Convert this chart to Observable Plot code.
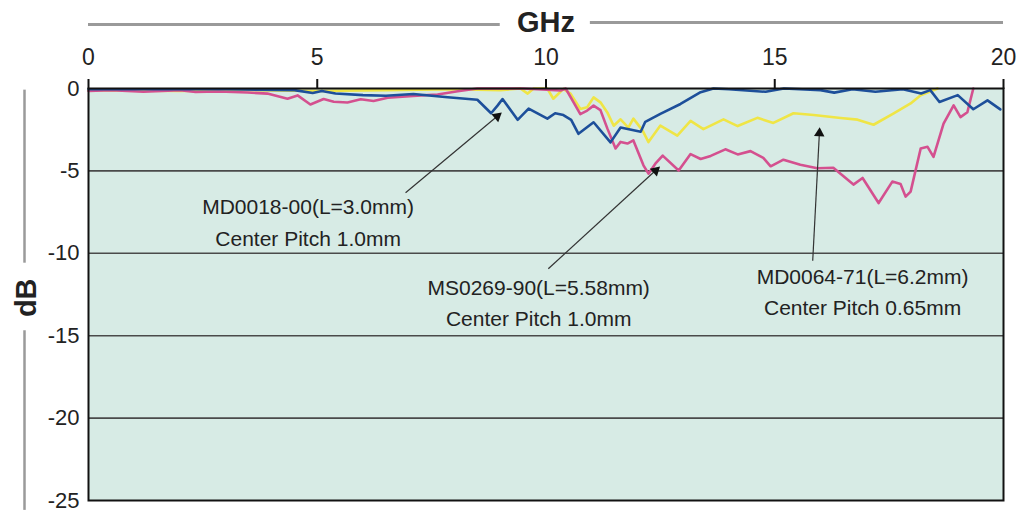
<!DOCTYPE html>
<html>
<head>
<meta charset="utf-8">
<script src="https://cdn.jsdelivr.net/npm/d3@7"></script>
<script src="https://cdn.jsdelivr.net/npm/@observablehq/plot@0.6"></script>
<style>
  html, body { margin: 0; padding: 0; background: #ffffff; }
  #chart { width: 1019px; height: 513px; }
</style>
</head>
<body>
<div id="chart"></div>
<script>
// ---- tick labels ----
const ghzTicks = [0, 5, 10, 15, 20];
const dbTicks = [0, -5, -10, -15, -20, -25];
const gridDb = [-5, -10, -15, -20];

// ---- series: MD0018-00 (blue) ----
const md0018Ghz = [0, 1.5, 3.0, 4.5, 4.9, 5.1, 5.4, 6.0, 6.5, 7.1, 7.85, 8.5, 8.8, 8.94, 9.05, 9.38, 9.62, 10.03, 10.2, 10.38, 10.55, 10.71, 11.04, 11.41, 11.63, 12.07, 12.17, 12.5, 12.94, 13.38, 13.66, 14.0, 14.8, 15.2, 16.0, 16.3, 16.7, 17.2, 17.8, 18.2, 18.4, 18.6, 19.0, 19.34, 19.65, 19.93];
const md0018Db  = [-0.05, -0.05, -0.05, -0.1, -0.27, -0.15, -0.3, -0.4, -0.44, -0.33, -0.53, -0.68, -1.5, -1.04, -0.64, -1.9, -1.22, -1.83, -1.5, -1.61, -1.9, -2.75, -2.05, -3.27, -2.37, -2.62, -2.02, -1.54, -0.94, -0.22, 0, -0.05, -0.2, 0, -0.1, -0.25, -0.05, -0.2, -0.05, -0.3, -0.1, -0.82, -0.4, -1.26, -0.72, -1.27];

// ---- series: MS0269-90 (magenta) ----
const ms0269Ghz = [0, 0.5, 1.2, 2.0, 2.34, 2.84, 3.48, 3.91, 4.35, 4.57, 4.85, 5.14, 5.36, 5.66, 5.95, 6.23, 6.54, 7.1, 7.63, 8.07, 8.5, 9.5, 10.32, 10.43, 10.6, 10.75, 10.9, 11.04, 11.19, 11.34, 11.52, 11.63, 11.78, 11.91, 12.13, 12.24, 12.39, 12.55, 12.9, 13.16, 13.38, 13.6, 13.92, 14.19, 14.47, 14.75, 14.91, 15.19, 15.56, 15.93, 16.28, 16.72, 16.92, 17.27, 17.57, 17.75, 17.86, 17.97, 18.19, 18.34, 18.47, 18.69, 18.91, 19.06, 19.21, 19.34];
const ms0269Db  = [-0.15, -0.1, -0.2, -0.1, -0.21, -0.18, -0.24, -0.31, -0.62, -0.42, -0.97, -0.64, -0.8, -0.85, -0.65, -0.76, -0.56, -0.45, -0.36, -0.17, 0, 0, -0.12, 0, -0.83, -1.55, -1.34, -1.04, -1.31, -2.42, -3.64, -3.24, -3.34, -3.15, -4.66, -5.17, -4.56, -4.07, -4.98, -3.98, -4.28, -4.09, -3.69, -4.0, -3.8, -4.21, -4.72, -4.32, -4.63, -4.84, -4.81, -5.83, -5.43, -6.95, -5.65, -5.79, -6.56, -6.26, -3.64, -3.54, -4.15, -2.13, -1.02, -1.74, -1.44, 0];

// ---- series: MD0064-71 (yellow) ----
const md0064Ghz = [0, 2.0, 3.5, 5.0, 6.5, 8.0, 9.0, 9.44, 9.6, 9.73, 10.03, 10.16, 10.38, 10.54, 10.75, 10.9, 11.04, 11.19, 11.34, 11.48, 11.63, 11.8, 11.91, 12.11, 12.24, 12.5, 12.87, 13.16, 13.44, 13.88, 14.19, 14.62, 14.97, 15.41, 15.85, 16.44, 16.81, 17.16, 17.6, 17.97, 18.19, 18.56];
const md0064Db  = [-0.1, -0.15, -0.1, -0.15, -0.1, -0.05, -0.1, 0, -0.31, 0, -0.01, -0.62, -0.02, -0.33, -1.24, -1.14, -0.54, -0.84, -1.45, -2.26, -1.87, -2.37, -1.83, -2.54, -3.25, -2.25, -2.86, -1.96, -2.47, -1.87, -2.28, -1.78, -2.09, -1.5, -1.61, -1.79, -1.89, -2.2, -1.51, -0.91, -0.41, 0];

// ---- annotations (data coordinates: GHz, dB) ----
const noteText = ["MD0018-00(L=3.0mm)\nCenter Pitch 1.0mm", "MS0269-90(L=5.58mm)\nCenter Pitch 1.0mm", "MD0064-71(L=6.2mm)\nCenter Pitch 0.65mm"];
const noteGhz = [4.8, 9.84, 16.92];
const noteDb = [-7.98, -12.87, -12.18];
const arrowFromGhz = [6.93, 10.05, 15.83];
const arrowFromDb = [-6.33, -10.94, -10.45];
const arrowToGhz = [9.0, 12.46, 15.98];
const arrowToDb = [-1.53, -4.81, -2.47];

const W = 1019, H = 513;
const mTop = 88, mLeft = 88, mRight = 16, mBottom = 13;

const series = [
  {name: "MD0064-71", color: "#efe546", ghz: md0064Ghz, db: md0064Db},
  {name: "MS0269-90", color: "#d4508f", ghz: ms0269Ghz, db: ms0269Db},
  {name: "MD0018-00", color: "#1d4f9a", ghz: md0018Ghz, db: md0018Db}
];
const lineData = series.flatMap(s => s.ghz.map((g, i) => ({series: s.name, ghz: g, db: s.db[i]})));

const xs = Plot.scale({x: {domain: [0, 20], range: [mLeft, W - mRight]}});
const ys = Plot.scale({y: {domain: [-25, 0], range: [H - mBottom, mTop]}});

const arrows = arrowFromGhz.map((g, i) => {
  const x1 = xs.apply(g), y1 = ys.apply(arrowFromDb[i]);
  const x2 = xs.apply(arrowToGhz[i]), y2 = ys.apply(arrowToDb[i]);
  const len = Math.hypot(x2 - x1, y2 - y1);
  const ux = (x2 - x1) / len, uy = (y2 - y1) / len;
  const back = 4;
  return {
    x1: g, y1: arrowFromDb[i], x2: arrowToGhz[i], y2: arrowToDb[i],
    hx: xs.invert(x2 - ux * back), hy: ys.invert(y2 - uy * back),
    angle: Math.atan2(x2 - x1, -(y2 - y1)) * 180 / Math.PI
  };
});
const notes = noteText.map((t, i) => ({text: t, ghz: noteGhz[i], db: noteDb[i]}));

const plot = Plot.plot({
  width: W, height: H,
  marginTop: mTop, marginLeft: mLeft, marginRight: mRight, marginBottom: mBottom,
  style: {fontFamily: "'Liberation Sans', Arial, sans-serif", fontSize: "22px", color: "#222", background: "#ffffff"},
  x: {domain: [0, 20]},
  y: {domain: [-25, 0]},
  color: {domain: series.map(s => s.name), range: series.map(s => s.color)},
  marks: [
    Plot.frame({fill: "#d7ebe5", stroke: null}),
    Plot.ruleY(gridDb, {stroke: "#4a4a4a", strokeWidth: 1.6}),
    Plot.line(lineData, {x: "ghz", y: "db", z: "series", stroke: "series", strokeWidth: 2.6, curve: "linear"}),
    Plot.frame({stroke: "#111", strokeWidth: 2}),
    Plot.axisX({anchor: "top", ticks: ghzTicks, tickSize: 10, tickPadding: 14, fontSize: 23, label: null, stroke: "#111", strokeWidth: 2, tickFormat: d => `${d}`}),
    Plot.axisY({anchor: "left", ticks: dbTicks, tickSize: 0, tickPadding: 9, fontSize: 22, label: null, tickFormat: d => `${d}`}),
    Plot.link(arrows, {x1: "x1", y1: "y1", x2: "x2", y2: "y2", stroke: "#333", strokeWidth: 1.2}),
    Plot.dot(arrows, {x: "hx", y: "hy", symbol: "triangle2", r: 5, fill: "#111", stroke: null, rotate: "angle"}),
    Plot.text(notes, {x: "ghz", y: "db", text: "text", fontSize: 21, lineHeight: 1.5, fill: "#222", textAnchor: "middle"}),
    // titles
    Plot.text(["GHz"], {x: 10, y: 0, dy: -66, fontSize: 29, fontWeight: "bold", fill: "#222"}),
    Plot.ruleY([0], {x1: 0, x2: 9.0, dy: -64, stroke: "#9a9a9a", strokeWidth: 3}),
    Plot.ruleY([0], {x1: 10.97, x2: 20, dy: -66, stroke: "#9a9a9a", strokeWidth: 3}),
    Plot.text(["dB"], {x: 0, y: -12.7, dx: -62, rotate: -90, fontSize: 29, fontWeight: "bold", fill: "#222"}),
    Plot.ruleX([0], {y1: -0.1, y2: -10.6, dx: -64, stroke: "#9a9a9a", strokeWidth: 2.5}),
    Plot.ruleX([0], {y1: -14.7, y2: -25.6, dx: -64, stroke: "#9a9a9a", strokeWidth: 2.5})
  ]
});
document.getElementById("chart").appendChild(plot);
</script>
</body>
</html>
